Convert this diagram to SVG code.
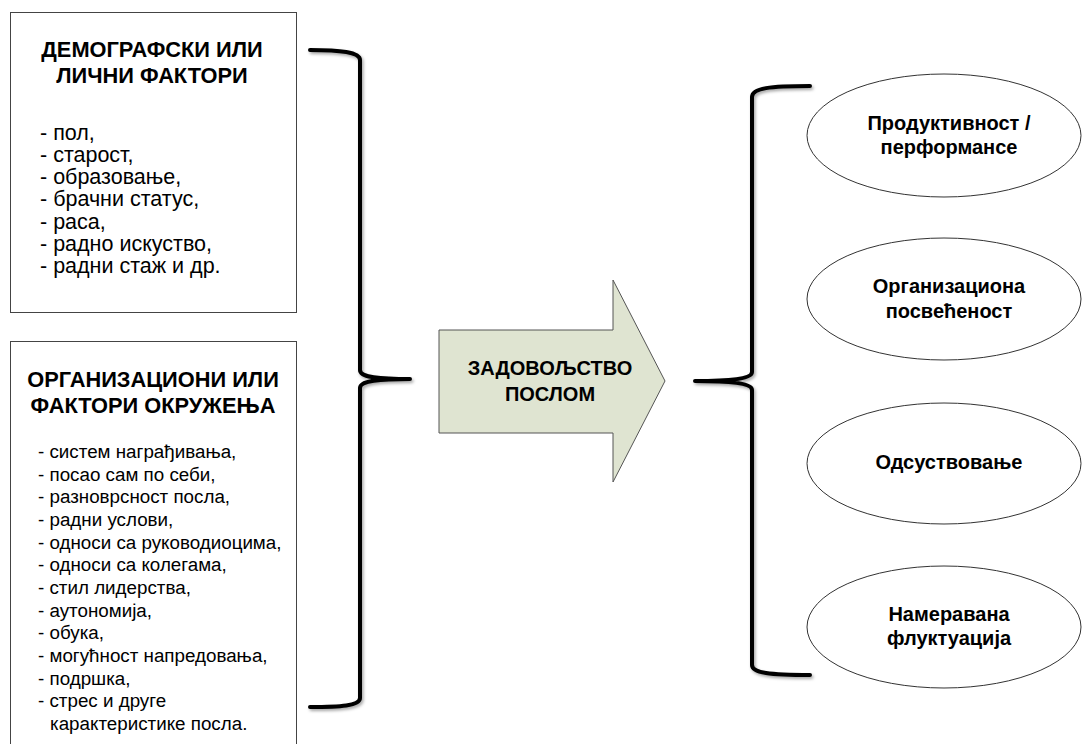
<svg xmlns="http://www.w3.org/2000/svg" width="1084" height="744" viewBox="0 0 1084 744">
<defs>
<filter id="sh" x="-20%" y="-5%" width="140%" height="110%">
<feDropShadow dx="1.5" dy="2" stdDeviation="1.5" flood-color="#000" flood-opacity="0.35"/>
</filter>
</defs>
<style>
.box{fill:#fff;stroke:#444;stroke-width:1}
.ttl{font-family:"Liberation Sans",Arial,sans-serif;font-weight:bold;font-size:21.8px;fill:#000;text-anchor:middle}
.li{font-family:"Liberation Sans",Arial,sans-serif;font-size:21.5px;fill:#000}
.li2{font-family:"Liberation Sans",Arial,sans-serif;font-size:18.8px;fill:#000}
.brace{fill:none;stroke:#000;stroke-width:4;stroke-linecap:round;stroke-linejoin:round}
.ell{fill:#fff;stroke:#333;stroke-width:1}
.et{font-family:"Liberation Sans",Arial,sans-serif;font-weight:bold;font-size:20px;fill:#000;text-anchor:middle}
.arr{fill:#dfe4d1;stroke:#555;stroke-width:1}
</style>
<g id="demographic">
<rect class="box" x="10.5" y="12.5" width="286" height="300"/>
<text class="ttl" x="152" y="57">ДЕМОГРАФСКИ ИЛИ</text>
<text class="ttl" x="152" y="83">ЛИЧНИ ФАКТОРИ</text>
<text class="li" x="40" y="140">- пол,</text>
<text class="li" x="40" y="162">- старост,</text>
<text class="li" x="40" y="184">- образовање,</text>
<text class="li" x="40" y="206">- брачни статус,</text>
<text class="li" x="40" y="229">- раса,</text>
<text class="li" x="40" y="251">- радно искуство,</text>
<text class="li" x="40" y="273">- радни стаж и др.</text>
</g>
<g id="organizational">
<rect class="box" x="10.5" y="341.5" width="286" height="420"/>
<text class="ttl" x="153" y="387">ОРГАНИЗАЦИОНИ ИЛИ</text>
<text class="ttl" x="153" y="413">ФАКТОРИ ОКРУЖЕЊА</text>
<text class="li2" x="38" y="458">- систем награђивања,</text>
<text class="li2" x="38" y="480.7">- посао сам по себи,</text>
<text class="li2" x="38" y="503.3">- разноврсност посла,</text>
<text class="li2" x="38" y="526">- радни услови,</text>
<text class="li2" x="38" y="548.7">- односи са руководиоцима,</text>
<text class="li2" x="38" y="571.3">- односи са колегама,</text>
<text class="li2" x="38" y="594">- стил лидерства,</text>
<text class="li2" x="38" y="616.7">- аутономија,</text>
<text class="li2" x="38" y="639.3">- обука,</text>
<text class="li2" x="38" y="662">- могућност напредовања,</text>
<text class="li2" x="38" y="684.7">- подршка,</text>
<text class="li2" x="38" y="707.3">- стрес и друге</text>
<text class="li2" x="50" y="730">карактеристике посла.</text>
</g>
<g id="satisfaction">
<polygon class="arr" points="439,330 613,330 613,280 665,381 613,482 613,433 439,433"/>
<text class="et" x="550" y="375">ЗАДОВОЉСТВО</text>
<text class="et" x="550" y="401">ПОСЛОМ</text>
</g>
<g id="productivity">
<ellipse class="ell" cx="944" cy="135.5" rx="137" ry="61.5"/>
<text class="et" x="949" y="130">Продуктивност /</text>
<text class="et" x="949" y="154">перформансе</text>
</g>
<g id="commitment">
<ellipse class="ell" cx="944" cy="299" rx="137" ry="61"/>
<text class="et" x="949" y="293">Организациона</text>
<text class="et" x="949" y="318">посвећеност</text>
</g>
<g id="absenteeism">
<ellipse class="ell" cx="944" cy="463.5" rx="137" ry="60.5"/>
<text class="et" x="949" y="469">Одсуствовање</text>
</g>
<g id="turnover">
<ellipse class="ell" cx="944" cy="627" rx="137" ry="61"/>
<text class="et" x="949" y="621">Намеравана</text>
<text class="et" x="949" y="645">флуктуација</text>
</g>
<g id="connectors" filter="url(#sh)">
<path class="brace" d="M310,50 C340,50 360,52 360,60 L360,370 C360,377 375,379 410,379 C375,379 360,381 360,388 L360,698 C360,706 340,707 310,707"/>
<path class="brace" d="M810,86 C770,86 752,88 752,97 L752,372 C752,378 735,381 695,381 C735,381 752,384 752,390 L752,665 C752,673 770,675 810,675"/>
</g>
</svg>
